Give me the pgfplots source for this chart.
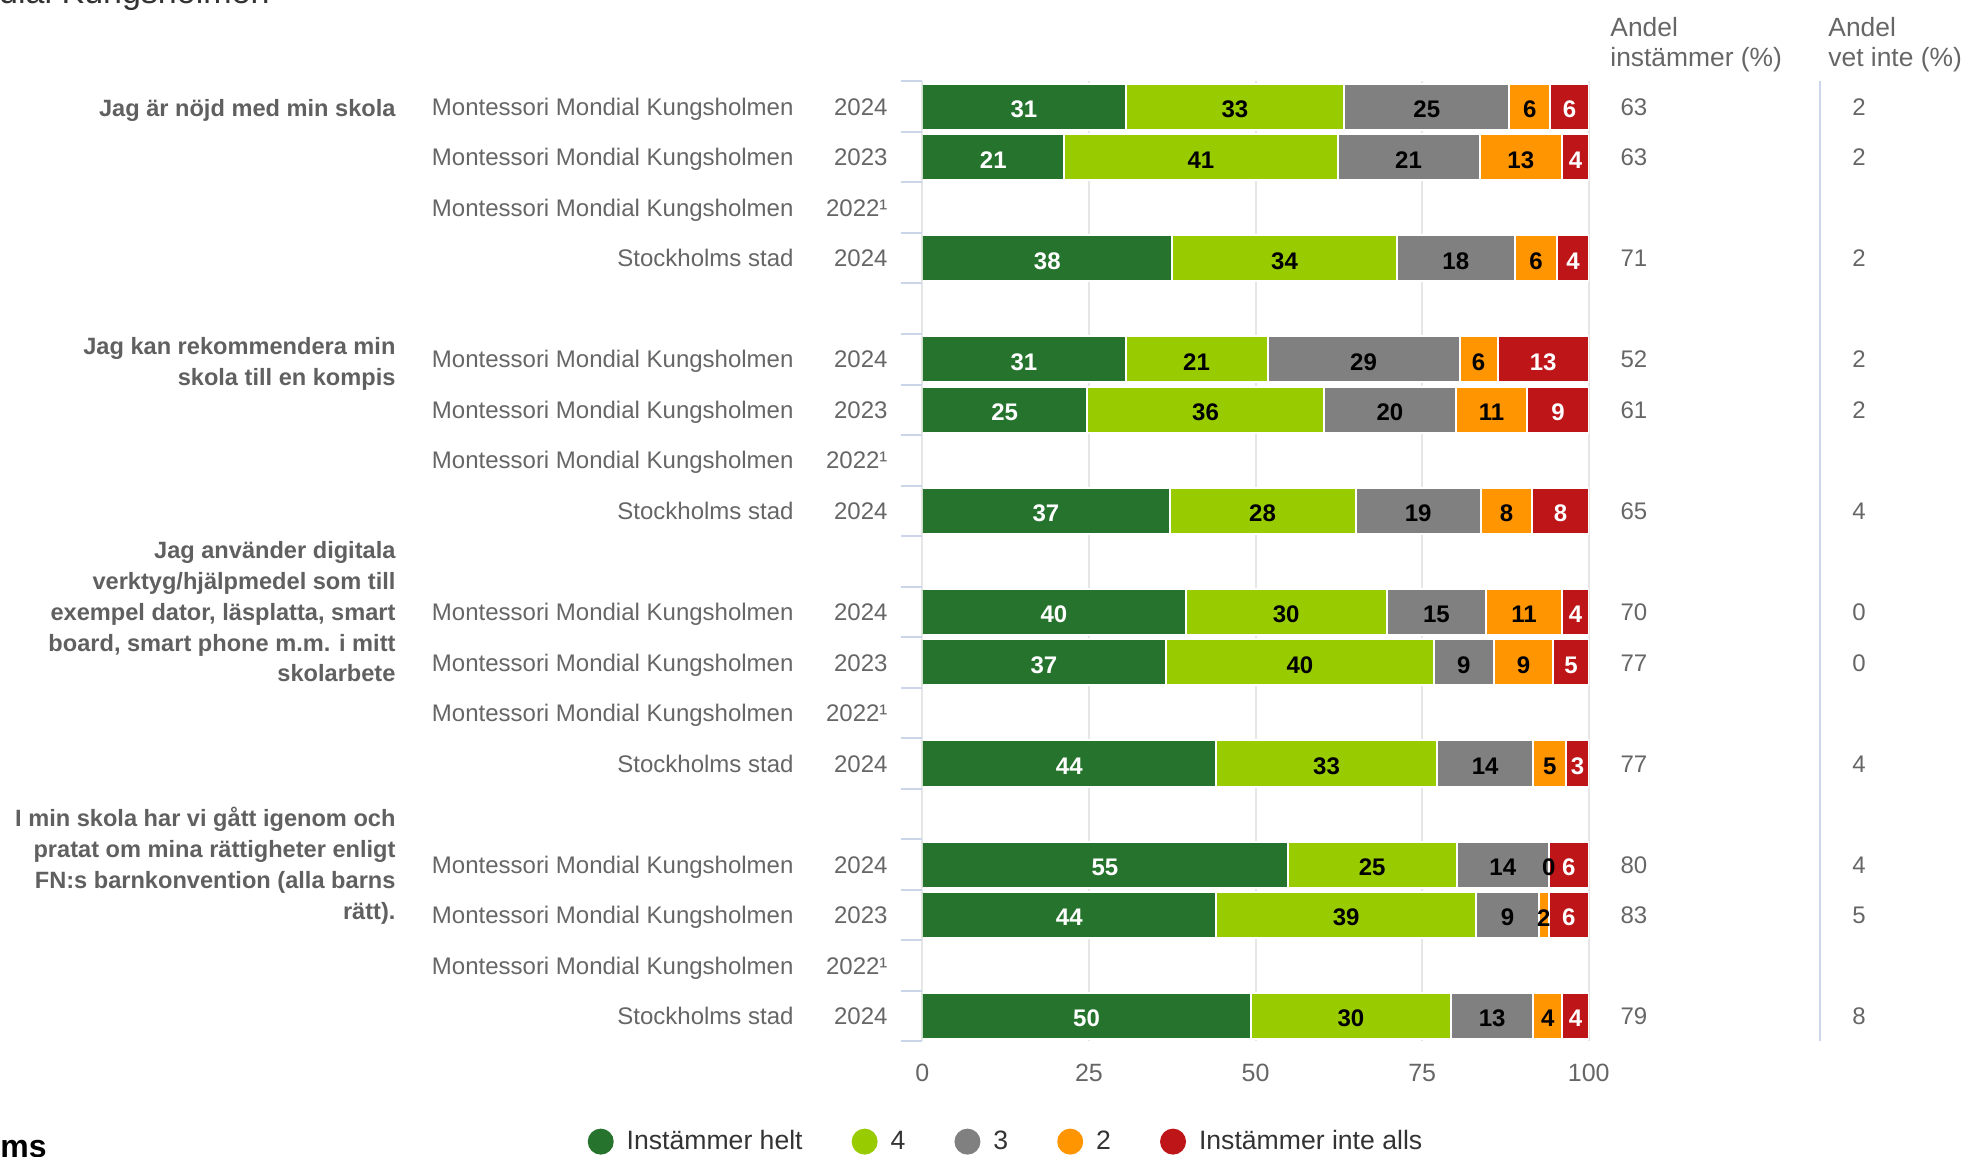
\documentclass[border=0pt]{standalone}
\usepackage{fontspec}
\setmainfont{Liberation Sans}
\usepackage{pgfplots}
\usepackage{pgfplotstable}
\pgfplotsset{compat=1.18}
\definecolor{cA}{RGB}{38,115,46}
\definecolor{cB}{RGB}{153,204,0}
\definecolor{cC}{RGB}{128,128,128}
\definecolor{cD}{RGB}{255,149,0}
\definecolor{cE}{RGB}{189,21,24}
\definecolor{txt}{RGB}{102,102,102}
\definecolor{txtb}{RGB}{96,96,96}
\definecolor{txtd}{RGB}{51,51,51}
\definecolor{gridc}{RGB}{230,230,230}
\definecolor{tickc}{RGB}{204,214,235}

% segment shares (bars normalised to 100)
\pgfplotstableread{
y  a    b    c    d    e
18 30.5 32.8 24.8 6.1  5.8
17 21.3 41.0 21.3 12.4 4.0
15 37.5 33.7 17.7 6.4  4.7
13 30.5 21.3 28.8 5.7  13.7
12 24.7 35.6 19.7 10.8 9.2
10 37.1 27.9 18.8 7.7  8.5
8  39.5 30.2 14.9 11.4 4.0
7  36.5 40.3 8.9  9.0  5.3
5  44.1 33.1 14.5 4.9  3.4
3  54.8 25.4 13.8 0.0  6.0
2  44.1 39.0 9.4  1.5  6.0
0  49.3 30.0 12.4 4.3  4.0
}\bardata

% labels in white (dark green and red segments)
\pgfplotstableread{
x     y  l
15.25 18 31
97.1  18 6
10.65 17 21
98.0  17 4
18.75 15 38
97.65 15 4
15.25 13 31
93.15 13 13
12.35 12 25
95.4  12 9
18.55 10 37
95.75 10 8
19.75 8  40
98.0  8  4
18.25 7  37
97.35 7  5
22.05 5  44
98.3  5  3
27.4  3  55
97.0  3  6
22.05 2  44
97.0  2  6
24.65 0  50
98.0  0  4
}\wlab

% labels in black
\pgfplotstableread{
x     y  l
46.9  18 33
75.7  18 25
91.15 18 6
41.8  17 41
72.95 17 21
89.8  17 13
54.35 15 34
80.05 15 18
92.1  15 6
41.15 13 21
66.2  13 29
83.45 13 6
42.5  12 36
70.15 12 20
85.4  12 11
51.05 10 28
74.4  10 19
87.65 10 8
54.6  8  30
77.15 8  15
90.3  8  11
56.65 7  40
81.25 7  9
90.2  7  9
60.65 5  33
84.45 5  14
94.15 5  5
67.5  3  25
87.1  3  14
94.0  3  0
63.6  2  39
87.8  2  9
93.25 2  2
64.3  0  30
85.5  0  13
93.85 0  4
}\blab

\pgfplotsset{geom/.style={at={(461.15pt,57.8pt)}, anchor=south west, scale only axis,
  width=333.25pt, height=480pt, xmin=0, xmax=100, ymin=-0.5, ymax=18.5}}

\newcommand{\rowpair}[3]{%
  \node[rowlab, xshift=-64.2pt] at (axis cs:0,#1) {#2};
  \node[rowlab, xshift=-17.2pt] at (axis cs:0,#1) {#3};}
\newcommand{\vals}[3]{%
  \node[vallab, xshift=22.6pt] at (axis cs:100,#1) {#2};
  \node[vallab, xshift=135.1pt] at (axis cs:100,#1) {#3};}
\newcommand{\dotimg}[1]{\addlegendimage{legend image code/.code={\path[fill=#1, draw=none] (6.5pt,0pt) circle (6.5pt); \path[draw=none, fill=none] (0pt,-6.5pt) rectangle (19.5pt,6.5pt);}}}

\begin{document}
\begin{tikzpicture}[
  rowlab/.style={anchor=base east, text=txt, font=\fontsize{12}{14}\selectfont, inner sep=0pt, yshift=-4.3pt},
  vallab/.style={anchor=base, text=txt, font=\fontsize{12}{14}\selectfont, inner sep=0pt, yshift=-4.3pt},
  catlab/.style={anchor=east, align=right, text=txtb, font=\bfseries\fontsize{11.8}{15.4}\selectfont, inner sep=0pt, xshift=-263.2pt},
  hdr/.style={anchor=base west, text=txt, font=\fontsize{13.2}{15}\selectfont, inner sep=0pt}]
\useasboundingbox (0pt,0pt) rectangle (983.5pt,578.5pt);

% cut-off fragments at the edges of the screenshot
\node[anchor=base east, inner sep=0pt, text=txtd, font=\fontsize{17}{19}\selectfont] at (135pt,576.5pt) {Montessori Mondial Kungsholmen};
\node[anchor=base west, inner sep=0pt, text=black, font=\bfseries\fontsize{16}{18}\selectfont] at (0pt,-0.5pt) {ms};

\begin{axis}[geom, xbar stacked, bar width=23pt,
  axis line style={draw=none},
  xtick={0,25,50,75,100}, xticklabels={}, xmajorgrids,
  major grid style={gridc, line width=1pt},
  ytick={-0.5,0.5,...,18.5}, yticklabels={},
  tick align=outside, major tick length=10.5pt, tick pos=left,
  xtick style={draw=none}, ytick style={tickc, line width=1pt}]
\addplot[fill=cA, draw=white, line width=1pt] table[x=a,y=y]{\bardata};
\addplot[fill=cB, draw=white, line width=1pt] table[x=b,y=y]{\bardata};
\addplot[fill=cC, draw=white, line width=1pt] table[x=c,y=y]{\bardata};
\addplot[fill=cD, draw=white, line width=1pt] table[x=d,y=y]{\bardata};
\addplot[fill=cE, draw=white, line width=1pt] table[x=e,y=y]{\bardata};
\end{axis}

\begin{axis}[geom, clip=false, axis line style={draw=none},
  ytick=\empty, xtick={0,25,50,75,100}, xtick style={draw=none}, major tick length=0pt,
  xticklabel style={anchor=center, yshift=-15.6pt, text=txt, font=\fontsize{12.5}{14}\selectfont},
  /pgf/number format/assume math mode=true,
  legend style={at={(0.1241,-0.1044)}, anchor=center, draw=none, fill=none,
    legend columns=-1, column sep=0pt, inner sep=0pt,
    nodes={inner sep=0pt, text=txtd, font=\fontsize{13.3}{15}\selectfont}}]
\addplot[forget plot, only marks, mark=none, nodes near coords, point meta=explicit symbolic,
  every node near coord/.append style={anchor=center, yshift=-1.3pt, text=white, font=\bfseries\fontsize{12}{14}\selectfont}]
  table[x=x,y=y,meta=l]{\wlab};
\addplot[forget plot, only marks, mark=none, nodes near coords, point meta=explicit symbolic,
  every node near coord/.append style={anchor=center, yshift=-1.3pt, text=black, font=\bfseries\fontsize{12}{14}\selectfont}]
  table[x=x,y=y,meta=l]{\blab};

\dotimg{cA}\addlegendentry{Instämmer helt\rule{24.5pt}{0pt}}
\dotimg{cB}\addlegendentry{4\rule{24.5pt}{0pt}}
\dotimg{cC}\addlegendentry{3\rule{24.5pt}{0pt}}
\dotimg{cD}\addlegendentry{2\rule{24.5pt}{0pt}}
\dotimg{cE}\addlegendentry{Instämmer inte alls}

\rowpair{18}{Montessori Mondial Kungsholmen}{2024}
\rowpair{17}{Montessori Mondial Kungsholmen}{2023}
\rowpair{16}{Montessori Mondial Kungsholmen}{2022¹}
\rowpair{15}{Stockholms stad}{2024}
\rowpair{13}{Montessori Mondial Kungsholmen}{2024}
\rowpair{12}{Montessori Mondial Kungsholmen}{2023}
\rowpair{11}{Montessori Mondial Kungsholmen}{2022¹}
\rowpair{10}{Stockholms stad}{2024}
\rowpair{8}{Montessori Mondial Kungsholmen}{2024}
\rowpair{7}{Montessori Mondial Kungsholmen}{2023}
\rowpair{6}{Montessori Mondial Kungsholmen}{2022¹}
\rowpair{5}{Stockholms stad}{2024}
\rowpair{3}{Montessori Mondial Kungsholmen}{2024}
\rowpair{2}{Montessori Mondial Kungsholmen}{2023}
\rowpair{1}{Montessori Mondial Kungsholmen}{2022¹}
\rowpair{0}{Stockholms stad}{2024}

\vals{18}{63}{2}
\vals{17}{63}{2}
\vals{15}{71}{2}
\vals{13}{52}{2}
\vals{12}{61}{2}
\vals{10}{65}{4}
\vals{8}{70}{0}
\vals{7}{77}{0}
\vals{5}{77}{4}
\vals{3}{80}{4}
\vals{2}{83}{5}
\vals{0}{79}{8}

\node[catlab, yshift=-1.9pt] at (axis cs:0,18) {Jag är nöjd med min skola};
\node[catlab, yshift=-2.5pt] at (axis cs:0,13) {Jag kan rekommendera min\\skola till en kompis};
\node[catlab] at (axis cs:0,8) {Jag använder digitala\\verktyg/hjälpmedel som till\\exempel dator, läsplatta, smart\\board, smart phone m.m. i mitt\\skolarbete};
\node[catlab, yshift=-0.6pt] at (axis cs:0,3) {I min skola har vi gått igenom och\\pratat om mina rättigheter enligt\\FN:s barnkonvention (alla barns\\rätt).};
\end{axis}

\node[hdr] at (805pt,560.3pt) {Andel};
\node[hdr] at (805pt,545.2pt) {instämmer (\%)};
\node[hdr] at (914pt,560.3pt) {Andel};
\node[hdr] at (914pt,545.2pt) {vet inte (\%)};
\draw[tickc, line width=1pt] (910pt,57.8pt) -- (910pt,537.8pt);
\end{tikzpicture}
\end{document}
